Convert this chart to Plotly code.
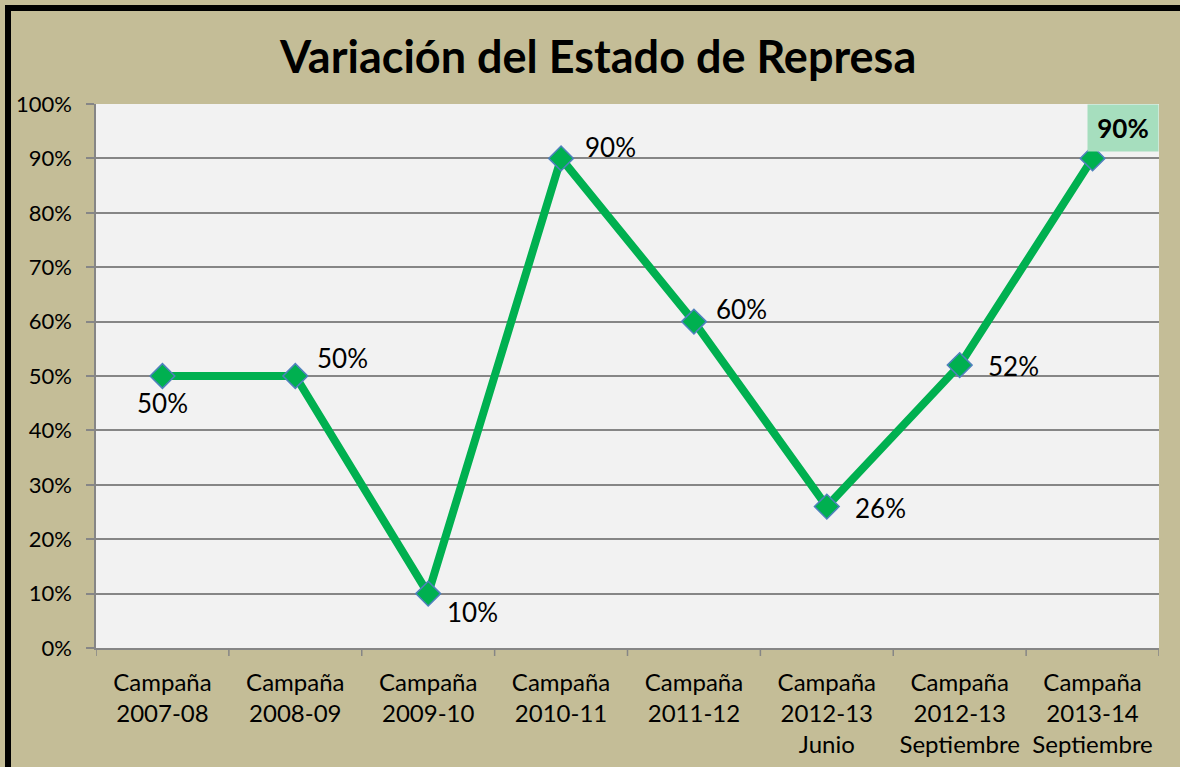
import plotly.graph_objects as go

categories = [
    "Campaña<br>2007-08",
    "Campaña<br>2008-09",
    "Campaña<br>2009-10",
    "Campaña<br>2010-11",
    "Campaña<br>2011-12",
    "Campaña<br>2012-13<br>Junio",
    "Campaña<br>2012-13<br>Septiembre",
    "Campaña<br>2013-14<br>Septiembre",
]
values = [0.50, 0.50, 0.10, 0.90, 0.60, 0.26, 0.52, 0.90]
y_ticks = [0, 0.1, 0.2, 0.3, 0.4, 0.5, 0.6, 0.7, 0.8, 0.9, 1.0]
y_tick_labels = ["0%", "10%", "20%", "30%", "40%", "50%", "60%", "70%", "80%", "90%", "100%"]

W, H = 1180, 767
ML, MR, MT, MB = 96, 21, 104, 119
PW, PH = W - ML - MR, H - MT - MB

FONT = "Lato, 'Open Sans', sans-serif"
GREEN = "#00B050"
GRID = "#868686"

xs = list(range(len(categories)))

fig = go.Figure()
fig.add_trace(go.Scatter(
    x=xs, y=values, mode="lines+markers",
    line=dict(color=GREEN, width=8),
    marker=dict(symbol="diamond", size=19, color=GREEN,
                line=dict(color="#4F81BD", width=1.5)),
    hoverinfo="skip", showlegend=False,
))

# data labels (offsets in pixels from the point)
label_offsets = [(0, -27), (47, 18), (44, -18), (49, 11), (48, 13), (54, -1), (54, -1), (30, 30)]
annotations = []
for i, (x, v) in enumerate(zip(xs, values)):
    dx, dy = label_offsets[i]
    last = i == len(values) - 1
    annotations.append(dict(
        x=x, y=v, xref="x", yref="y",
        text=(f"<b>{round(v*100)}%</b>" if last else f"{round(v*100)}%"),
        showarrow=False, xshift=dx, yshift=dy,
        font=dict(family=FONT, size=26, color="black"),
        bgcolor="#A6DEBE" if last else None,
        width=68 if last else None, height=44 if last else None,
        xanchor="center", yanchor="middle",
    ))


def px2x(px):
    return (px - ML) / PW


def py2y(py):
    return (H - MB - py) / PH


annotations.append(dict(
    x=px2x(597), y=py2y(56), xref="paper", yref="paper",
    text="<b>Variación del Estado de Represa</b>", showarrow=False,
    font=dict(family=FONT, size=45, color="black"),
    xanchor="center", yanchor="middle",
))

shapes = [
    dict(type="rect", xref="paper", yref="paper", layer="above",
         x0=px2x(5), x1=px2x(W + 5), y0=py2y(5), y1=py2y(11),
         fillcolor="black", line=dict(width=0)),
    dict(type="rect", xref="paper", yref="paper", layer="above",
         x0=px2x(5), x1=px2x(11), y0=py2y(H + 5), y1=py2y(5),
         fillcolor="black", line=dict(width=0)),
]

fig.update_layout(
    width=W, height=H,
    margin=dict(l=ML, r=MR, t=MT, b=MB, autoexpand=False),
    paper_bgcolor="#C4BD97",
    plot_bgcolor="#F2F2F2",
    font=dict(family=FONT, color="black"),
    annotations=annotations,
    shapes=shapes,
    xaxis=dict(
        type="linear", range=[-0.5, len(categories) - 0.5],
        tickvals=xs,
        ticktext=categories,
        tickfont=dict(family=FONT, size=24, color="black"),
        ticklabelstandoff=12, automargin=False,
        showgrid=False, zeroline=False,
        showline=True, linecolor=GRID, linewidth=1.5,
        ticks="", fixedrange=True,
    ),
    yaxis=dict(
        range=[0, 1], tickvals=y_ticks, ticktext=y_tick_labels,
        tickfont=dict(family=FONT, size=22, color="black"),
        ticklabelstandoff=10, automargin=False,
        showgrid=True, gridcolor=GRID, gridwidth=1.5,
        zeroline=False, showline=True, linecolor=GRID, linewidth=1.5,
        ticks="outside", ticklen=8, tickcolor=GRID, tickwidth=1.5,
        fixedrange=True,
    ),
)

# category boundary tick marks on x axis
for b in range(len(categories) + 1):
    fig.add_shape(type="line", xref="x", yref="paper",
                  x0=b - 0.5, x1=b - 0.5, y0=0, y1=py2y(H - MB + 8),
                  line=dict(color=GRID, width=1.5), layer="above")

fig.write_html(
    "out.html",
    config={"displayModeBar": False},
    post_script="document.body.style.margin='0';document.body.style.overflow='hidden';",
)
